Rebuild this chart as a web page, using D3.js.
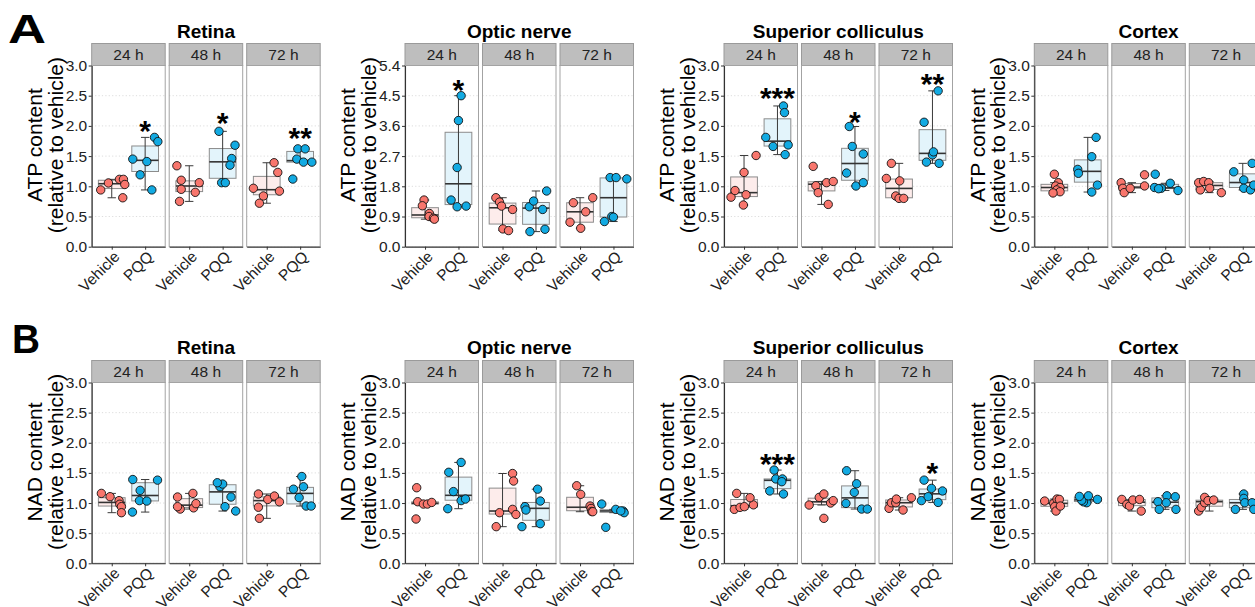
<!DOCTYPE html>
<html><head><meta charset="utf-8">
<script src="https://cdn.jsdelivr.net/npm/d3@7"></script>
<style>body{margin:0;background:#fff} svg{display:block;font-family:"Liberation Sans",Arial,Helvetica,sans-serif}</style>
</head><body><svg id="chart" width="1255" height="607"></svg>
<script>
// ---------------- data ----------------
const tissues = ["Retina", "Optic nerve", "Superior colliculus", "Cortex"];
const times = ["24 h", "48 h", "72 h"];
const groups = ["Vehicle", "PQQ"];
const measures = ["ATP content", "NAD content"];
const panelLetters = ["A", "B"];
const atpTicks = [[0,0.5,1,1.5,2,2.5,3],[0,0.9,1.8,2.7,3.6,4.5,5.4],[0,0.5,1,1.5,2,2.5,3],[0,0.5,1,1.5,2,2.5,3]];
const nadTicks = [[0,0.5,1,1.5,2,2.5,3],[0,0.5,1,1.5,2,2.5,3],[0,0.5,1,1.5,2,2.5,3],[0,0.5,1,1.5,2,2.5,3]];

// ATP, per tissue: [24h, 48h, 72h]
const atpRetinaVehicle = [[0.94,1.055,1.115,1.115,1.03,0.81],[1.34,1.10,0.95,0.75,0.90,1.06],[0.967,0.72,0.84,1.39,1.23,0.92]];
const atpRetinaVehicleJitter = [[-0.33,-0.10,0.23,0.35,0.39,0.33],[-0.37,-0.24,-0.24,-0.29,0.18,0.30],[-0.40,-0.22,-0.10,0.22,0.33,0.38]];
const atpRetinaPQQ = [[1.45,1.19,1.41,0.94,1.81,1.74],[1.91,1.68,1.46,1.35,1.06,1.06],[1.12,1.62,1.62,1.45,1.40,1.40]];
const atpRetinaPQQJitter = [[-0.37,-0.15,0.05,0.20,0.28,0.38],[-0.11,0.37,0.27,0.22,-0.03,0.08],[-0.22,-0.07,0.15,-0.10,0.10,0.35]];

const atpOpticVehicle = [[1.39,1.22,0.99,0.90,0.85,0.82],[1.46,1.33,1.21,1.11,0.53,0.48],[0.73,1.31,0.55,1.04,1.46]];
const atpOpticVehicleJitter = [[-0.03,-0.08,0.13,0.12,0.25,0.28],[-0.20,-0.09,-0.03,0.30,0.01,0.18],[-0.30,-0.20,0.02,0.17,0.38]];
const atpOpticPQQ = [[4.50,3.76,2.36,1.39,1.19,1.21],[1.19,1.36,1.11,1.66,0.45,0.52],[0.75,0.90,0.88,2.06,2.06,2.02]];
const atpOpticPQQJitter = [[0.08,0.0,-0.04,-0.22,-0.04,0.23],[-0.20,-0.07,0.20,0.32,-0.18,0.27],[-0.27,-0.05,0.0,-0.10,0.08,0.40]];

const atpSCVehicle = [[0.82,0.93,1.23,0.86,0.69,1.51],[1.33,1.01,0.895,1.06,1.08,0.70],[1.13,1.38,0.84,1.09,0.80,0.80]];
const atpSCVehicleJitter = [[-0.39,-0.27,0.0,0.06,-0.02,0.36],[-0.25,-0.17,-0.10,0.15,0.35,0.20],[-0.38,-0.23,-0.10,0.02,0.0,0.14]];
const atpSCPQQ = [[1.81,1.66,2.33,2.22,1.685,1.525],[1.99,1.66,1.22,1.535,1.005,1.06],[2.06,1.40,1.52,2.58,1.38,1.57]];
const atpSCPQQJitter = [[-0.35,-0.13,0.18,0.21,0.32,0.23],[-0.17,-0.08,-0.25,0.25,0.03,0.25],[-0.25,-0.18,0.0,0.17,0.20,0.03]];

const atpCortexVehicle = [[1.20,1.06,1.005,0.98,0.94,0.91,0.89],[1.06,0.967,0.895,0.967,1.006,1.19],[0.94,1.06,1.08,1.06,0.967,0.895]];
const atpCortexVehicleJitter = [[0.0,0.12,0.04,0.17,0.07,0.17,-0.04],[-0.32,-0.27,-0.23,-0.05,0.38,0.38],[-0.27,-0.32,-0.17,-0.02,0.01,0.36]];
const atpCortexPQQ = [[1.28,1.215,1.49,1.81,1.02,0.905],[1.20,0.98,0.967,1.05,0.93,0.96],[1.24,1.105,0.967,0.94,1.38,1.02]];
const atpCortexPQQJitter = [[-0.30,-0.28,0.12,0.25,0.29,0.12],[-0.30,-0.32,-0.12,0.15,0.38,-0.20],[-0.27,0.03,0.03,0.23,0.28,0.33]];

// NAD
const nadRetinaVehicle = [[1.16,1.105,1.04,0.98,0.94,0.84],[0.90,0.92,0.94,0.99,1.10,1.16],[1.15,0.93,0.746,1.06,1.116,1.02]];
const nadRetinaVehicleJitter = [[-0.31,-0.05,0.22,0.24,0.29,0.29],[-0.27,0.13,-0.35,0.20,-0.35,0.11],[-0.25,-0.25,-0.22,0.03,0.23,0.38]];
const nadRetinaPQQ = [[1.39,1.21,1.04,1.033,1.38,0.85],[0.867,0.94,1.10,1.27,1.315,1.337],[1.23,1.44,1.27,1.09,0.95,0.95]];
const nadRetinaPQQJitter = [[-0.37,-0.15,-0.17,0.05,0.37,-0.38],[0.39,0.07,0.25,-0.08,0.0,-0.16],[-0.20,0.05,0.10,-0.03,0.18,0.33]];

const nadOpticVehicle = [[1.254,1.022,0.735,0.983,0.983,1.01],[0.608,0.84,1.49,1.365,0.895,0.81],[1.287,1.144,0.95,0.91,0.86,0.856]];
const nadOpticVehicleJitter = [[-0.25,-0.22,-0.27,-0.05,0.07,0.20],[-0.19,-0.09,0.30,0.33,0.30,0.40],[-0.10,0.02,0.30,0.33,0.35,0.38]];
const nadOpticPQQ = [[1.51,1.19,0.906,1.674,1.04,1.066],[0.94,0.884,0.608,1.23,1.033,0.657],[0.983,0.895,0.867,0.84,0.597,0.87]];
const nadOpticPQQJitter = [[-0.29,-0.15,-0.32,0.08,0.08,0.21],[-0.33,-0.30,-0.42,0.05,0.13,0.13],[-0.35,0.07,0.29,0.32,-0.23,0.22]];

const nadSCVehicle = [[0.895,0.928,0.94,0.97,1.088,1.16],[0.746,0.967,1.0,1.04,1.094,1.15],[0.912,1.005,1.005,1.066,0.884,1.088]];
const nadSCVehicleJitter = [[-0.29,-0.12,0.01,0.28,0.18,-0.22],[0.07,-0.37,0.27,0.35,-0.07,0.07],[-0.30,-0.23,-0.10,-0.08,0.12,0.37]];
const nadSCPQQ = [[1.547,1.40,1.40,1.354,1.20,1.15],[1.536,0.994,1.177,1.32,0.90,0.90],[1.38,1.04,1.105,1.243,1.01,1.20]];
const nadSCPQQJitter = [[-0.10,-0.05,0.15,0.13,-0.23,0.18],[-0.25,-0.27,-0.02,0.05,0.20,0.37],[-0.25,-0.33,-0.13,-0.03,0.17,0.30]];

const nadCortexVehicle = [[1.033,0.995,1.066,1.06,0.94,0.867,0.95],[1.06,0.978,0.95,1.05,1.06,0.867],[0.867,0.928,1.005,1.094,1.04,1.05]];
const nadCortexVehicleJitter = [[-0.29,-0.02,0.08,0.15,0.01,0.05,0.18],[-0.30,-0.15,-0.07,0.03,0.23,0.28],[-0.32,-0.24,-0.14,-0.14,-0.04,0.13]];
const nadCortexPQQ = [[1.005,1.02,1.045,1.06,1.11,1.12],[1.022,0.895,1.12,1.005,1.105,0.895],[0.895,1.15,1.077,1.005,1.005,0.895]];
const nadCortexPQQJitter = [[-0.03,-0.13,-0.18,0.29,-0.25,0.02],[-0.22,-0.18,0.05,0.03,0.30,0.32],[-0.22,0.03,0.03,0.06,0.28,0.33]];

// significance labels (PQQ vs vehicle) and their heights (data units)
const atpSig = [["*","*","**"],["*","",""],["***","*","**"],["","",""]];
const atpSigY = [[2.02,2.15,1.90],[4.86,0,0],[2.57,2.18,2.80],[0,0,0]];
const nadSig = [["","",""],["","",""],["***","","*"],["","",""]];
const nadSigY = [[0,0,0],[0,0,0],[1.76,0,1.60],[0,0,0]];

// ---------------- assemble ----------------
const rowsData = [
  { measure: measures[0], letter: panelLetters[0], ticks: atpTicks, sig: atpSig, sigY: atpSigY,
    vals: [[atpRetinaVehicle, atpRetinaPQQ],[atpOpticVehicle, atpOpticPQQ],[atpSCVehicle, atpSCPQQ],[atpCortexVehicle, atpCortexPQQ]],
    jit: [[atpRetinaVehicleJitter, atpRetinaPQQJitter],[atpOpticVehicleJitter, atpOpticPQQJitter],[atpSCVehicleJitter, atpSCPQQJitter],[atpCortexVehicleJitter, atpCortexPQQJitter]] },
  { measure: measures[1], letter: panelLetters[1], ticks: nadTicks, sig: nadSig, sigY: nadSigY,
    vals: [[nadRetinaVehicle, nadRetinaPQQ],[nadOpticVehicle, nadOpticPQQ],[nadSCVehicle, nadSCPQQ],[nadCortexVehicle, nadCortexPQQ]],
    jit: [[nadRetinaVehicleJitter, nadRetinaPQQJitter],[nadOpticVehicleJitter, nadOpticPQQJitter],[nadSCVehicleJitter, nadSCPQQJitter],[nadCortexVehicleJitter, nadCortexPQQJitter]] }
];

// ---------------- layout & style ----------------
const colX = [91.7, 405, 724, 1034.3];
const panelW = 73.5, panelGap = 4, stripH = 22;
const rowLayout = [
  { stripTop: 43.5, bottom: 246.7, titleY: 38, letterY: 43, letterX: 8, letterW: 38 },
  { stripTop: 360.5, bottom: 563.3, titleY: 354, letterY: 353, letterX: 12, letterW: 28 }
];
const fillPt = { Vehicle: "#F8766D", PQQ: "#12AAE2" };
const fillBox = { Vehicle: "#FDECEB", PQQ: "#E3F4FB" };
const ink = "#222";

const svg = d3.select("#chart");
const fmt = d3.format(".1f");

rowsData.forEach((row, ri) => {
  const L = rowLayout[ri];
  const top = L.stripTop + stripH;
  // panel letter
  svg.append("text").attr("x", L.letterX).attr("y", L.letterY)
    .attr("font-size", 40).attr("font-weight", "bold").attr("fill", "#000")
    .attr("textLength", L.letterW).attr("lengthAdjust", "spacingAndGlyphs")
    .text(row.letter);

  tissues.forEach((tissue, ti) => {
    const x0 = colX[ti];
    const ticks = row.ticks[ti];
    const y = d3.scaleLinear().domain([0, d3.max(ticks)]).range([L.bottom, top]);
    const totalW = 3 * panelW + 2 * panelGap;

    // tissue title
    svg.append("text").attr("x", x0 + totalW / 2).attr("y", L.titleY)
      .attr("text-anchor", "middle").attr("font-size", 19).attr("font-weight", "bold")
      .attr("fill", "#000").text(tissue);

    // y axis title (two lines)
    const midY = (L.stripTop + L.bottom) / 2;
    const tA = svg.append("g").attr("transform", `translate(${x0 - 57},${midY}) rotate(-90)`);
    tA.append("text").attr("text-anchor", "middle").attr("dy", "0.35em")
      .attr("font-size", 21).attr("fill", "#000").text(row.measure);
    const tB = svg.append("g").attr("transform", `translate(${x0 - 36.5},${midY}) rotate(-90)`);
    tB.append("text").attr("text-anchor", "middle").attr("dy", "0.35em")
      .attr("font-size", 21).attr("fill", "#000").text("(relative to vehicle)");

    times.forEach((time, k) => {
      const px = x0 + k * (panelW + panelGap);
      const g = svg.append("g").attr("transform", `translate(${px},0)`);
      const x = d3.scalePoint().domain(groups).range([0, panelW]).padding(0.6);
      const step = x.step();

      // panel background + grid
      g.append("rect").attr("x", 0).attr("y", top).attr("width", panelW).attr("height", L.bottom - top)
        .attr("fill", "#fff");
      g.selectAll("line.grid").data(ticks).join("line").attr("class", "grid")
        .attr("x1", 0).attr("x2", panelW).attr("y1", d => y(d)).attr("y2", d => y(d))
        .attr("stroke", "#d4d4d4").attr("stroke-width", 0.8).attr("stroke-dasharray", "1.2,2.2");

      // strip
      g.append("rect").attr("x", 0).attr("y", L.stripTop).attr("width", panelW).attr("height", stripH)
        .attr("fill", "#bebebe").attr("stroke", "#9a9a9a").attr("stroke-width", 1);
      g.append("text").attr("x", panelW / 2).attr("y", L.stripTop + stripH / 2).attr("dy", "0.36em")
        .attr("text-anchor", "middle").attr("font-size", 15.5).attr("fill", ink).text(time);

      // boxes
      groups.forEach((grp, gi) => {
        const vals = row.vals[ti][gi][k];
        const jit = row.jit[ti][gi][k];
        const s = vals.slice().sort(d3.ascending);
        const q1 = d3.quantile(s, 0.25), med = d3.quantile(s, 0.5), q3 = d3.quantile(s, 0.75);
        const iqr = q3 - q1;
        const lo = d3.min(s.filter(v => v >= q1 - 1.5 * iqr));
        const hi = d3.max(s.filter(v => v <= q3 + 1.5 * iqr));
        const cx = x(grp);
        const bw = step * 0.8, cw = step * 0.25;
        g.append("rect").attr("x", cx - bw / 2).attr("y", y(q3)).attr("width", bw)
          .attr("height", Math.max(0.5, y(q1) - y(q3)))
          .attr("fill", fillBox[grp]).attr("stroke", "#8c8c8c").attr("stroke-width", 1);
        // errorbar
        g.append("line").attr("x1", cx).attr("x2", cx).attr("y1", y(lo)).attr("y2", y(hi))
          .attr("stroke", "#3a3a3a").attr("stroke-width", 1);
        [lo, hi].forEach(v => g.append("line").attr("x1", cx - cw / 2).attr("x2", cx + cw / 2)
          .attr("y1", y(v)).attr("y2", y(v)).attr("stroke", "#3a3a3a").attr("stroke-width", 1));
        g.append("line").attr("x1", cx - bw / 2).attr("x2", cx + bw / 2).attr("y1", y(med)).attr("y2", y(med))
          .attr("stroke", "#333").attr("stroke-width", 1.6);
      });
      // points
      groups.forEach((grp, gi) => {
        const vals = row.vals[ti][gi][k];
        const jit = row.jit[ti][gi][k];
        g.selectAll(null).data(vals.map((v, i) => ({ v, j: jit[i] }))).join("circle")
          .attr("cx", d => x(grp) + d.j * step).attr("cy", d => y(d.v)).attr("r", 4.2)
          .attr("fill", fillPt[grp]).attr("stroke", "#111").attr("stroke-width", 0.9);
      });

      // significance
      const lab = row.sig[ti][k];
      if (lab) {
        g.append("text").attr("x", x("PQQ")).attr("y", y(row.sigY[ti][k]) + 16.5)
          .attr("text-anchor", "middle").attr("font-size", 30).attr("font-weight", "bold")
          .attr("fill", "#000").text(lab);
      }

      // panel border
      g.append("rect").attr("x", 0).attr("y", top).attr("width", panelW).attr("height", L.bottom - top)
        .attr("fill", "none").attr("stroke", "#a3a3a3").attr("stroke-width", 1);
      // bottom axis
      const xa = g.append("g").attr("transform", `translate(0,${L.bottom})`)
        .call(d3.axisBottom(x).tickSize(3).tickSizeOuter(0).tickFormat(""));
      xa.select(".domain").attr("stroke", "#333").attr("stroke-width", 1.1);
      xa.selectAll(".tick line").attr("stroke", "#333");
      g.selectAll("text.xl").data(groups).join("text").attr("class", "xl")
        .attr("transform", d => `translate(${x(d) + 1},${L.bottom + 3}) rotate(-45)`)
        .attr("text-anchor", "end").attr("dy", "0.72em")
        .attr("font-size", 15.5).attr("fill", ink).text(d => d);

      if (k === 0) {
        const ya = g.append("g").call(d3.axisLeft(y).tickValues(ticks).tickFormat(fmt).tickSize(3).tickSizeOuter(0));
        ya.select(".domain").attr("stroke", "#333").attr("stroke-width", 1.1);
        ya.selectAll(".tick line").attr("stroke", "#333");
        ya.selectAll(".tick text").attr("font-size", 15.5).attr("fill", ink)
          .attr("font-family", "'Liberation Sans',Arial,sans-serif").attr("x", -4.5);
      }
    });
  });
});
</script></body></html>
